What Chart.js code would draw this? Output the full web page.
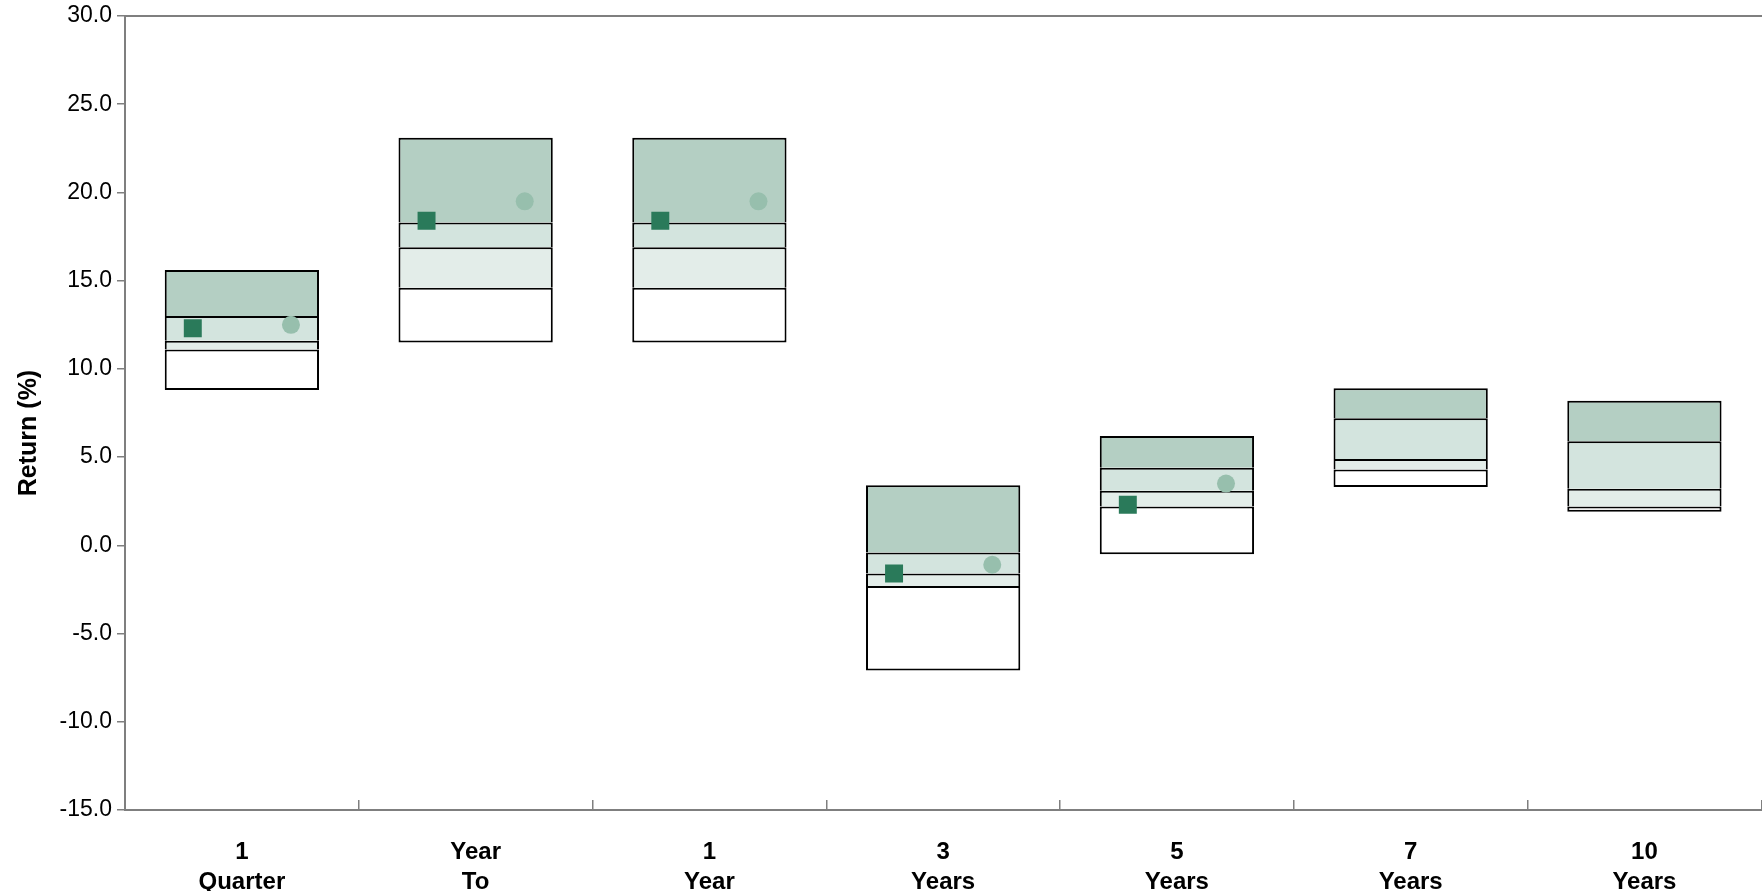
<!DOCTYPE html>
<html>
<head>
<meta charset="utf-8">
<title>Return (%)</title>
<script src="https://cdn.jsdelivr.net/npm/chart.js@4.4.1/dist/chart.umd.min.js"></script>
<style>
  html, body { margin: 0; padding: 0; background: #ffffff; overflow: hidden; }
  #wrap { width: 1762px; height: 891px; overflow: hidden; position: relative; }
  canvas { display: block; }
</style>
</head>
<body>
<div id="wrap"><canvas id="c" width="1774" height="930"></canvas></div>
<script>
// Periods along the x axis (multi-line labels)
const categories = [
  ['1', 'Quarter'],
  ['Year', 'To', 'Date'],
  ['1', 'Year'],
  ['3', 'Years'],
  ['5', 'Years'],
  ['7', 'Years'],
  ['10', 'Years']
];

// Peer-universe percentile breakpoints (%)
const p95 = [15.6, 23.1, 23.1, 3.4, 6.2, 8.9, 8.2];
const p75 = [13.0, 18.3, 18.3, -0.4, 4.4, 7.2, 5.9];
const p50 = [11.6, 16.9, 16.9, -1.6, 3.1, 4.9, 3.2];
const p25 = [11.1, 14.6, 14.6, -2.3, 2.2, 4.3, 2.2];
const p05 = [8.8, 11.5, 11.5, -7.1, -0.5, 3.3, 1.9];

// Portfolio (square) and benchmark (circle) returns (%)
const portfolio = [12.3, 18.4, 18.4, -1.6, 2.3, null, null];
const benchmark = [12.5, 19.5, 19.5, -1.1, 3.5, null, null];

// Y axis ticks
const yTicks = [-15, -10, -5, 0, 5, 10, 15, 20, 25, 30];

const FONT = '"Liberation Sans", Arial, Helvetica, sans-serif';
const markerShift = 0.21;

const band = (lo, hi) => lo.map((v, i) => [v, hi[i]]);
const marks = (vals, dx) => vals
  .map((v, i) => ({ x: i + dx, y: v }))
  .filter(p => p.y !== null);

// Each band draws its own top edge; the lowest band also closes the box at the bottom
const barCommon = {
  type: 'bar',
  grouped: false,
  categoryPercentage: 1,
  barPercentage: 0.66,
  borderColor: '#000000',
  borderSkipped: false,
  borderWidth: { top: 2, bottom: 0, left: 2, right: 2 },
  xAxisID: 'x',
  yAxisID: 'y',
  order: 2
};

// Rotated y-axis title
const yTitlePlugin = {
  id: 'yTitle',
  afterDraw(chart) {
    const { ctx, chartArea } = chart;
    ctx.save();
    ctx.translate(29, (chartArea.top + chartArea.bottom) / 2 + 20);
    ctx.rotate(-Math.PI / 2);
    ctx.font = 'bold 25px ' + FONT;
    ctx.fillStyle = '#000000';
    ctx.textAlign = 'center';
    ctx.textBaseline = 'middle';
    ctx.fillText('Return (%)', 0, 0);
    ctx.restore();
  }
};

new Chart(document.getElementById('c'), {
  type: 'bar',
  data: {
    labels: categories,
    datasets: [
      {
        type: 'scatter', label: 'Portfolio', data: marks(portfolio, -markerShift),
        xAxisID: 'xm', yAxisID: 'y', order: 0,
        pointStyle: 'rect', pointRadius: 12.7, pointHoverRadius: 12.7,
        pointBackgroundColor: '#2a7a5a', pointBorderWidth: 0, showLine: false
      },
      {
        type: 'scatter', label: 'Benchmark', data: marks(benchmark, markerShift),
        xAxisID: 'xm', yAxisID: 'y', order: 1,
        pointStyle: 'circle', pointRadius: 9, pointHoverRadius: 9,
        pointBackgroundColor: '#97bfad', pointBorderWidth: 0, showLine: false
      },
      Object.assign({}, barCommon, {
        label: '75th-95th', data: band(p75, p95), backgroundColor: '#b4cfc3'
      }),
      Object.assign({}, barCommon, {
        label: 'Median-75th', data: band(p50, p75), backgroundColor: '#d3e4de'
      }),
      Object.assign({}, barCommon, {
        label: '25th-Median', data: band(p25, p50), backgroundColor: '#e3ede9'
      }),
      Object.assign({}, barCommon, {
        label: '5th-25th', data: band(p05, p25), backgroundColor: '#ffffff',
        borderWidth: { top: 2, bottom: 2, left: 2, right: 2 }
      })
    ]
  },
  options: {
    responsive: false,
    animation: false,
    devicePixelRatio: 1,
    layout: { padding: { top: 16, right: 0, bottom: 0, left: 0 } },
    plugins: { legend: { display: false }, tooltip: { enabled: false }, title: { display: false } },
    scales: {
      x: {
        type: 'category',
        position: 'bottom',
        offset: true,
        grid: {
          offset: true, display: true, drawOnChartArea: false, drawTicks: true,
          tickLength: -10, color: '#7f7f7f', lineWidth: 1.5
        },
        border: { display: true, color: '#7f7f7f', width: 2 },
        ticks: {
          color: '#000000', maxRotation: 0, autoSkip: false, padding: 37,
          font: { family: FONT, size: 24, weight: 'bold', lineHeight: 1.25 }
        },
        afterFit(scale) { scale.height = 120; }
      },
      xTop: {
        type: 'linear', position: 'top', min: 0, max: 1, display: true, offset: false,
        grid: { display: false, drawTicks: false },
        ticks: { display: false },
        border: { display: true, color: '#7f7f7f', width: 2 }
      },
      xm: { type: 'linear', min: -0.5, max: 6.5, offset: false, display: false },
      y: {
        type: 'linear', position: 'left',
        min: yTicks[0], max: yTicks[yTicks.length - 1],
        afterBuildTicks(scale) { scale.ticks = yTicks.map(v => ({ value: v })); },
        grid: { display: true, drawOnChartArea: false, drawTicks: true, tickLength: 8, color: '#7f7f7f', lineWidth: 1.5 },
        border: { display: true, color: '#7f7f7f', width: 2 },
        ticks: {
          color: '#000000', padding: 5,
          font: { family: FONT, size: 23, lineHeight: 0.9 },
          callback: v => Number(v).toFixed(1)
        },
        afterFit(scale) { scale.width = 125; }
      }
    }
  },
  plugins: [yTitlePlugin]
});
</script>
</body>
</html>
